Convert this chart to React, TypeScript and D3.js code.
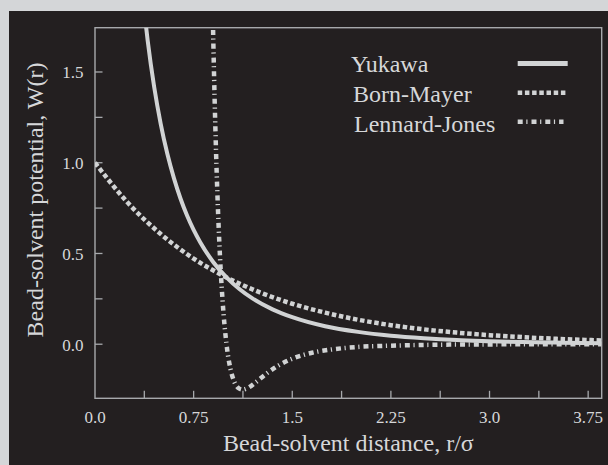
import React from "react";
import * as d3 from "d3";

// ---- data ----
const seriesNames = ["Yukawa", "Born-Mayer", "Lennard-Jones"];

const yukawaR = [0.37, 0.4, 0.45, 0.5, 0.55, 0.6, 0.65, 0.7, 0.75, 0.8, 0.9, 1.0, 1.1, 1.2, 1.35, 1.5, 1.75, 2.0, 2.25, 2.5, 2.75, 3.0, 3.25, 3.5, 3.85];
const yukawaW = [1.866, 1.676, 1.417, 1.213, 1.049, 0.915, 0.803, 0.709, 0.63, 0.562, 0.452, 0.368, 0.303, 0.251, 0.192, 0.149, 0.099, 0.068, 0.047, 0.033, 0.023, 0.017, 0.012, 0.009, 0.006];

const bornR = [0, 0.25, 0.5, 0.75, 1.0, 1.25, 1.5, 1.75, 2.0, 2.25, 2.5, 2.75, 3.0, 3.25, 3.5, 3.85];
const bornW = [1.0, 0.779, 0.607, 0.472, 0.368, 0.287, 0.223, 0.174, 0.135, 0.105, 0.082, 0.064, 0.05, 0.039, 0.03, 0.021];

const ljR = [0.89, 0.895, 0.9, 0.91, 0.92, 0.93, 0.94, 0.95, 0.97, 1.0, 1.03, 1.06, 1.09, 1.122, 1.16, 1.22, 1.3, 1.4, 1.5, 1.65, 1.8, 2.0, 2.25, 2.5, 3.0, 3.5, 3.85];
const ljW = [2.037, 1.84, 1.659, 1.34, 1.071, 0.843, 0.652, 0.49, 0.241, 0.0, -0.136, -0.208, -0.241, -0.25, -0.242, -0.211, -0.164, -0.115, -0.08, -0.047, -0.029, -0.015, -0.008, -0.004, -0.001, -0.0005, -0.0003];

const xMajorTicks = [0, 0.75, 1.5, 2.25, 3.0, 3.75];
const xTickLabels = ["0.0", "0.75", "1.5", "2.25", "3.0", "3.75"];
const xMinorTicks = [0.375, 1.125, 1.875, 2.625, 3.375];
const yMajorTicks = [0, 0.5, 1.0, 1.5];
const yTickLabels = ["0.0", "0.5", "1.0", "1.5"];
const yMinorTicks = [0.25, 0.75, 1.25];

const xDomain = [0, 3.853];
const yDomain = [-0.298, 1.744];

// ---- styling ----
const W = 608, H = 465;
const plot = { left: 95, top: 27.7, right: 601.7, bottom: 398.3 };
const lineColor = "#d1d3d4";
const axisColor = "#a7a9ac";
const textColor = "#d6d7d9";
const font = "'Liberation Serif', 'Times New Roman', serif";

const styles = [
  { width: 4, dash: "none" },
  { width: 4.5, dash: "4.5,2.7" },
  { width: 4.5, dash: "5,3.6,1.2,4" },
];

export default function App() {
  const x = d3.scaleLinear().domain(xDomain).range([plot.left, plot.right]);
  const y = d3.scaleLinear().domain(yDomain).range([plot.bottom, plot.top]);

  const mk = (rs: number[], ws: number[]) =>
    d3
      .line<number>()
      .x((_, i) => x(rs[i]))
      .y((_, i) => y(ws[i]))
      .curve(d3.curveMonotoneX)(rs) as string;

  const paths = [mk(yukawaR, yukawaW), mk(bornR, bornW), mk(ljR, ljW)];

  const tickLen = 7.5;
  const allXTicks = [...xMajorTicks.slice(1), ...xMinorTicks];
  const allYTicks = [...yMajorTicks, ...yMinorTicks];

  const legendTextX = [351, 353, 354];
  const legendBase = [71.7, 102, 131.5];
  const legendLineY = [63.5, 92.7, 121.7];
  const legendLineX = [[517.7, 567.7], [517.7, 567.7], [517.7, 563.5]];

  return (
    <svg
      width={W}
      height={H}
      style={{ position: "absolute", left: 0, top: 0 }}
      fontFamily={font}
    >
      <rect x={0} y={0} width={W} height={H} fill="#d4d6d8" />
      <rect x={9} y={11} width={W - 9} height={H - 11} fill="#231f20" />
      <defs>
        <clipPath id="plotClip">
          <rect x={plot.left} y={plot.top} width={plot.right - plot.left} height={plot.bottom - plot.top} />
        </clipPath>
      </defs>

      {/* frame */}
      <rect
        x={plot.left}
        y={plot.top}
        width={plot.right - plot.left}
        height={plot.bottom - plot.top}
        fill="none"
        stroke={axisColor}
        strokeWidth={1.4}
      />
      {allXTicks.map((t) => (
        <line key={"xt" + t} x1={x(t)} x2={x(t)} y1={plot.bottom} y2={plot.bottom - tickLen} stroke={axisColor} strokeWidth={1.3} />
      ))}
      {allYTicks.map((t) => (
        <line key={"yt" + t} x1={plot.left} x2={plot.left + tickLen} y1={y(t)} y2={y(t)} stroke={axisColor} strokeWidth={1.3} />
      ))}
      {xMajorTicks.map((t, i) => (
        <text key={"xl" + t} x={x(t)} y={423} textAnchor="middle" fontSize={17} fill={textColor}>
          {xTickLabels[i]}
        </text>
      ))}
      {yMajorTicks.map((t, i) => (
        <text key={"yl" + t} x={83.5} y={y(t) + 6.5} textAnchor="end" fontSize={17} fill={textColor}>
          {yTickLabels[i]}
        </text>
      ))}

      {/* curves */}
      <g clipPath="url(#plotClip)">
        {paths.map((d, i) => (
          <path
            key={seriesNames[i]}
            d={d}
            fill="none"
            stroke={lineColor}
            strokeWidth={styles[i].width}
            strokeDasharray={styles[i].dash}
          />
        ))}
      </g>

      {/* axis titles */}
      <text x={(plot.left + plot.right) / 2} y={451} textAnchor="middle" fontSize={24} fill={textColor}>
        Bead-solvent distance, r/σ
      </text>
      <text transform="translate(43,200) rotate(-90)" textAnchor="middle" fontSize={24} fill={textColor}>
        Bead-solvent potential, W(r)
      </text>

      {/* legend */}
      {seriesNames.map((n, i) => (
        <g key={"lg" + n}>
          <text x={legendTextX[i]} y={legendBase[i]} fontSize={24} fill={textColor}>
            {n}
          </text>
          <line
            x1={legendLineX[i][0]}
            x2={legendLineX[i][1]}
            y1={legendLineY[i]}
            y2={legendLineY[i]}
            stroke={lineColor}
            strokeWidth={i === 0 ? 5 : 4.5}
            strokeDasharray={styles[i].dash}
          />
        </g>
      ))}
    </svg>
  );
}
